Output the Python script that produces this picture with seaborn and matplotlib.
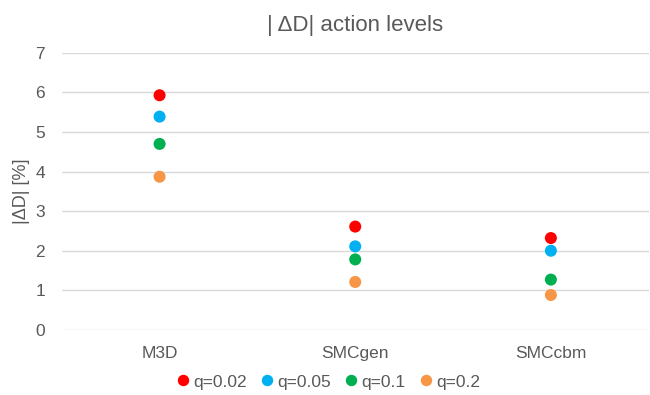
import matplotlib
matplotlib.use("Agg")
import matplotlib.pyplot as plt
import seaborn as sns
import pandas as pd

methods = ["M3D", "SMCgen", "SMCcbm"]
q_labels = ["q=0.02", "q=0.05", "q=0.1", "q=0.2"]
q002 = [5.93, 2.61, 2.32]
q005 = [5.39, 2.11, 2.00]
q01 = [4.70, 1.78, 1.27]
q02 = [3.87, 1.21, 0.88]
colors = ["#FF0000", "#00B0F0", "#00B050", "#F79646"]

rows = []
for lab, vals in zip(q_labels, [q002, q005, q01, q02]):
    for m, v in zip(methods, vals):
        rows.append({"method": m, "q": lab, "value": v})
df = pd.DataFrame(rows)

sns.set_theme(style="white")
plt.rcParams["font.family"] = ["Liberation Sans", "DejaVu Sans"]
text_color = "#595959"

fig = plt.figure(figsize=(6.5, 3.95), dpi=100)
ax = fig.add_axes([0.095, 0.165, 0.903, 0.701])

df["x"] = df["method"].map({m: i for i, m in enumerate(methods)})
sns.scatterplot(data=df, x="x", y="value", hue="q", hue_order=q_labels,
                palette=colors, s=75, edgecolor="none", ax=ax, zorder=3,
                legend=True)

ax.set_xlim(-0.5, 2.5)
ax.set_ylim(0, 7)
ax.set_yticks(range(0, 8))
ax.set_xticks(range(len(methods)))
ax.set_xticklabels(methods)
ax.yaxis.grid(True, color="#D9D9D9", linewidth=1)
ax.xaxis.grid(False)
for s in ax.spines.values():
    s.set_visible(False)
ax.tick_params(axis="both", length=0, labelsize=12.5, colors=text_color)
ax.tick_params(axis="y", pad=12)
ax.tick_params(axis="x", pad=12)
ax.set_xlabel("")
ax.set_ylabel("|ΔD| [%]", fontsize=13, color=text_color, labelpad=4)
ax.set_title("| ΔD| action levels", fontsize=16, color=text_color, pad=16)

handles, labels = ax.get_legend_handles_labels()
leg = fig.legend(handles, labels, loc="center", bbox_to_anchor=(0.505, 0.033),
                 ncol=4, frameon=False, fontsize=12.5, handlelength=0.8,
                 handletextpad=0.2, columnspacing=0.75, markerscale=0.95)
for t in leg.get_texts():
    t.set_color(text_color)
ax.get_legend().remove()

fig.savefig("out.png", dpi=100)
